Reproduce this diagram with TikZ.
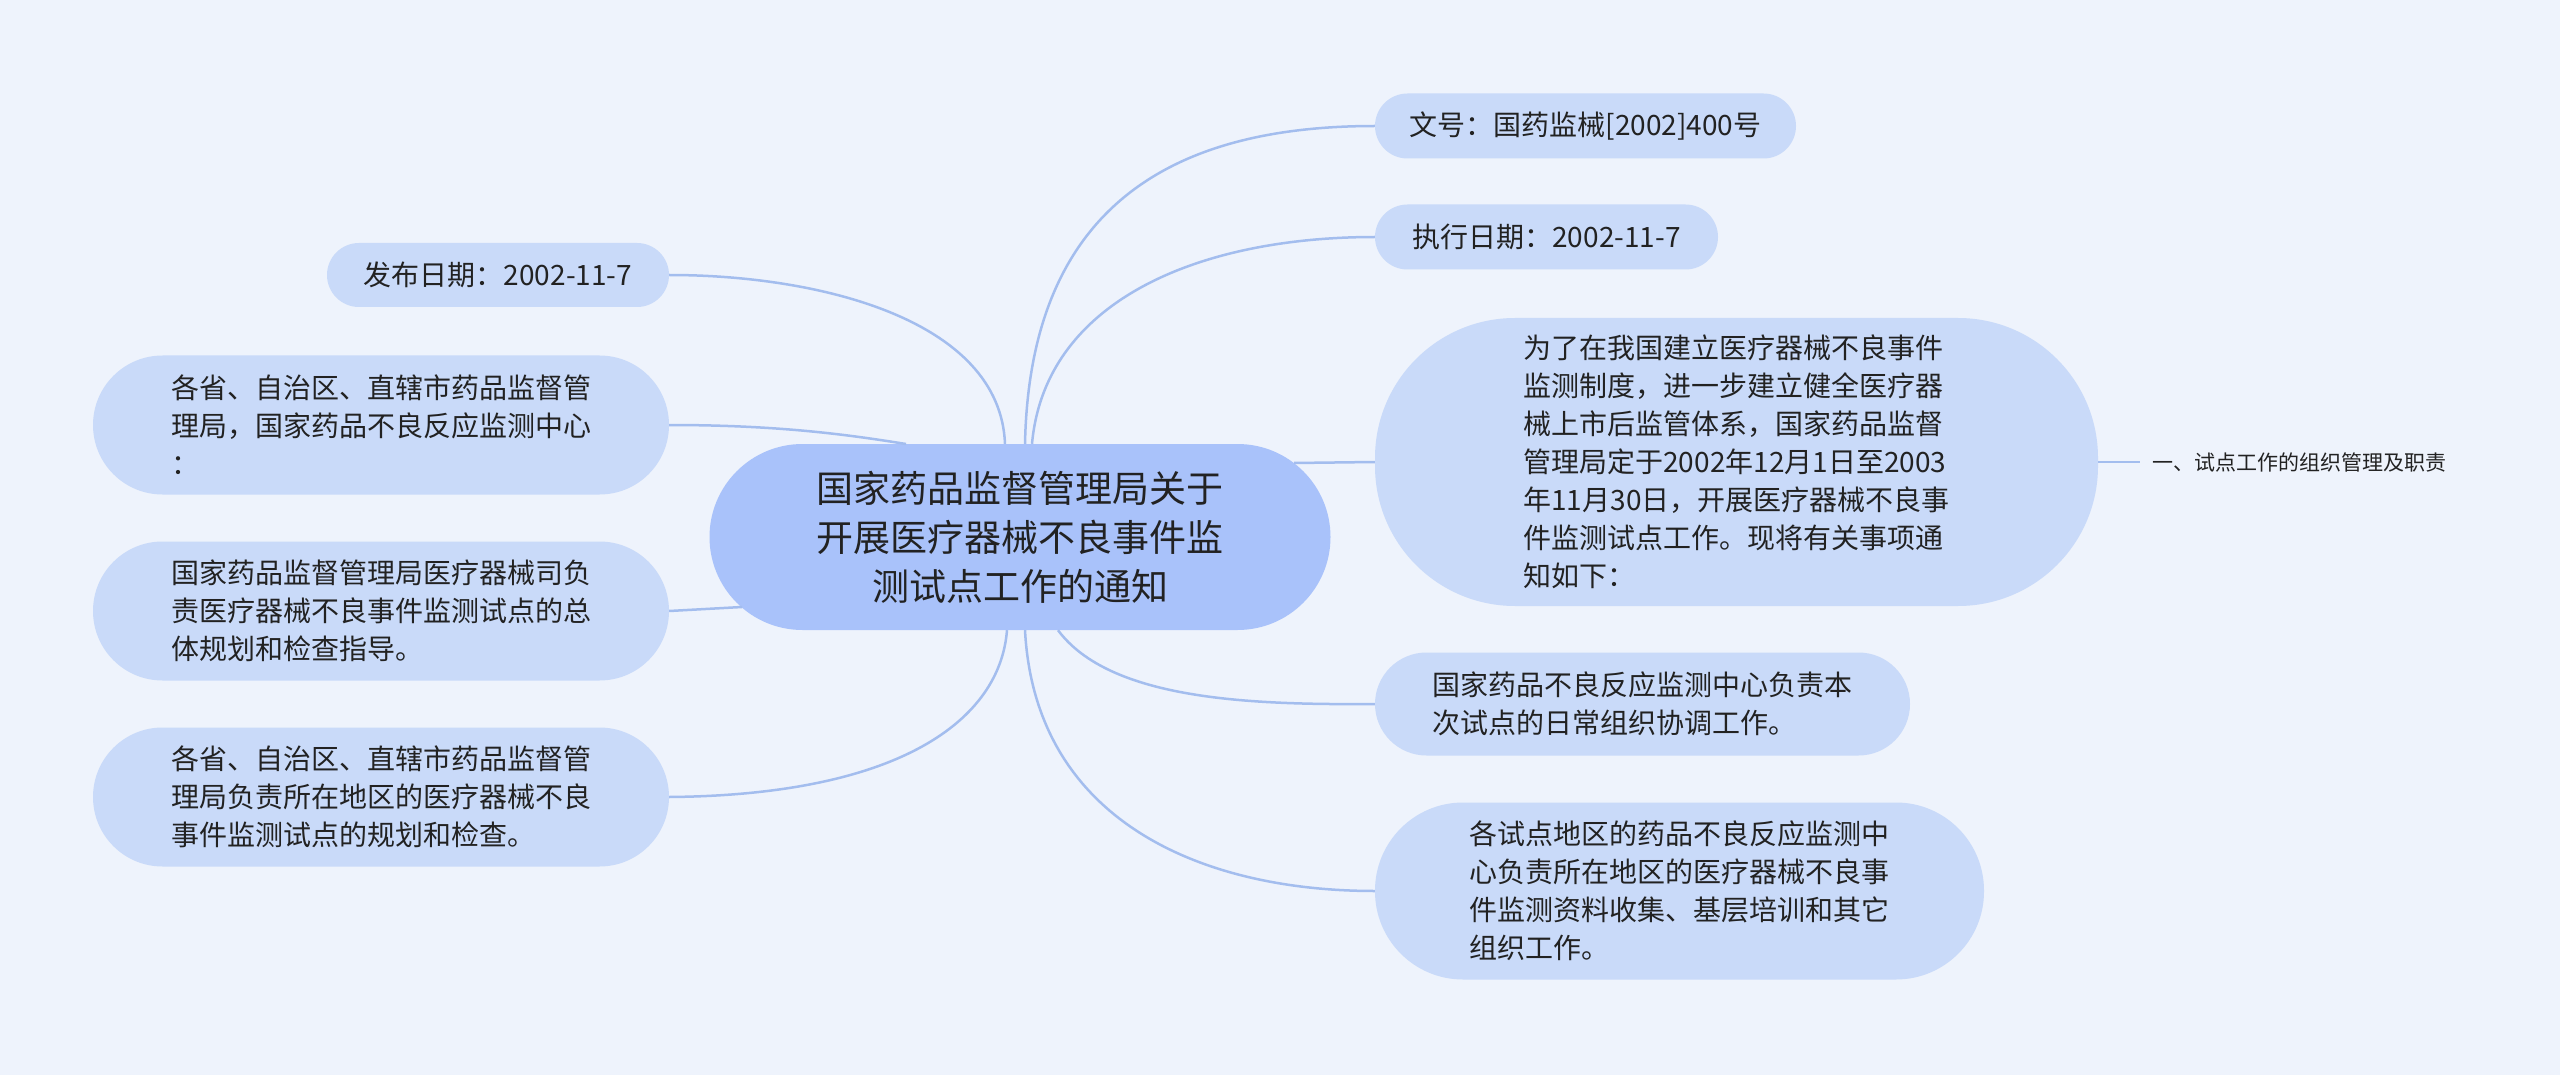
\documentclass[tikz,border=0pt]{standalone}
\usepackage{fontspec}
\setmainfont{Noto Sans CJK SC}
\definecolor{bgc}{HTML}{EEF3FC}
\definecolor{boxc}{HTML}{C9DAF9}
\definecolor{rootc}{HTML}{A9C2FA}
\definecolor{linec}{HTML}{A3BDEE}
\definecolor{txtc}{HTML}{222222}
\begin{document}
\begin{tikzpicture}[x=1pt,y=-1pt,
  box/.style={fill=boxc, draw=none, inner sep=0pt, align=left, text=txtc,
    font=\fontsize{28}{38}\selectfont},
  rootbox/.style={fill=rootc, draw=none, inner sep=0pt, align=center, text=txtc,
    font=\fontsize{37}{49}\selectfont},
  conn/.style={draw=linec, line width=2.5pt}]
\useasboundingbox (0,0) rectangle (2560,1075);
\fill[bgc] (0,0) rectangle (2560,1075);

% root
\node[rootbox, minimum width=621pt, minimum height=186pt, rounded corners=93pt] (root) at (1020,537)
  {国家药品监督管理局关于\\开展医疗器械不良事件监\\测试点工作的通知};

% right children
\node[box, minimum width=421pt, minimum height=65pt, rounded corners=32.5pt] (wh) at (1585.5,126)
  {文号：国药监械[2002]400号};
\node[box, minimum width=343pt, minimum height=65pt, rounded corners=32.5pt] (zx) at (1546.5,237)
  {执行日期：2002-11-7};
\node[box, minimum width=723pt, minimum height=288pt, rounded corners=140pt] (big) at (1736.5,462)
  {为了在我国建立医疗器械不良事件\\监测制度，进一步建立健全医疗器\\械上市后监管体系，国家药品监督\\管理局定于2002年12月1日至2003\\年11月30日，开展医疗器械不良事\\件监测试点工作。现将有关事项通\\知如下：};
\node[box, minimum width=535pt, minimum height=103pt, rounded corners=51.5pt] (gj) at (1642.5,704)
  {国家药品不良反应监测中心负责本\\次试点的日常组织协调工作。};
\node[box, minimum width=609pt, minimum height=177pt, rounded corners=88pt] (gs) at (1679.5,891)
  {各试点地区的药品不良反应监测中\\心负责所在地区的医疗器械不良事\\件监测资料收集、基层培训和其它\\组织工作。};
\node[anchor=west, inner sep=0pt, text=txtc, font=\fontsize{21}{26}\selectfont] (leaf) at (2152,462)
  {一、试点工作的组织管理及职责};

% left children
\node[box, minimum width=342pt, minimum height=64pt, rounded corners=32pt] (fb) at (498,275)
  {发布日期：2002-11-7};
\node[box, minimum width=576pt, minimum height=139pt, rounded corners=69.5pt] (l2) at (381,425)
  {各省、自治区、直辖市药品监督管\\理局，国家药品不良反应监测中心\\：};
\node[box, minimum width=576pt, minimum height=139pt, rounded corners=69.5pt] (l3) at (381,611)
  {国家药品监督管理局医疗器械司负\\责医疗器械不良事件监测试点的总\\体规划和检查指导。};
\node[box, minimum width=576pt, minimum height=139pt, rounded corners=69.5pt] (l4) at (381,797)
  {各省、自治区、直辖市药品监督管\\理局负责所在地区的医疗器械不良\\事件监测试点的规划和检查。};

% connectors (drawn behind via ordering trick: draw then redraw nodes not needed since lines end at borders)
\begin{scope}[on background layer/.style={}]
\draw[conn] ([xshift=5pt]root.north) .. controls (1030,200) and (1180,126) .. (wh.west);
\draw[conn] ([xshift=12pt]root.north) .. controls (1045,300) and (1200,237) .. (zx.west);
\draw[conn] (1294,463) -- (big.west |- 0,462);
\draw[conn] (big.east) -- ([xshift=-12pt]leaf.west);
\draw[conn] ([xshift=38pt]root.south) .. controls (1110,700) and (1250,705) .. (gj.west);
\draw[conn] ([xshift=5pt]root.south) .. controls (1035,820) and (1200,891) .. (gs.west);
\draw[conn] ([xshift=-15pt]root.north) .. controls (1000,320) and (820,275) .. (fb.east);
\draw[conn] (l2.east) .. controls (780,425) and (850,435) .. (906,444);
\draw[conn] (l3.east) -- (742,607);
\draw[conn] (l4.east) .. controls (900,795) and (1000,720) .. ([xshift=-13pt]root.south);
\end{scope}
\end{tikzpicture}
\end{document}
